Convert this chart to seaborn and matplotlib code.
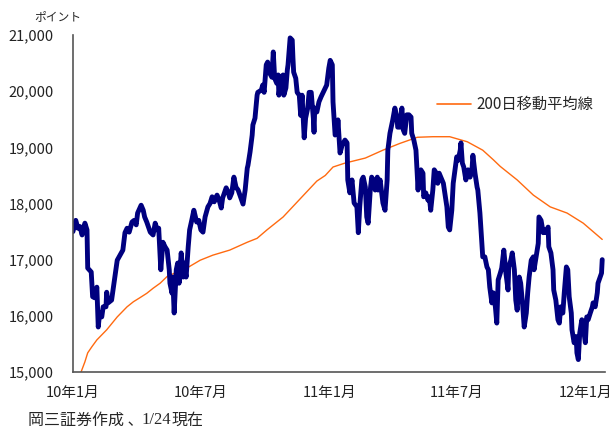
import pandas as pd
import matplotlib
matplotlib.use("Agg")
import matplotlib.pyplot as plt
from matplotlib.lines import Line2D
import seaborn as sns

# 指数の終値（2010/1/1 からの経過日数, ポイント） - 図から読み取った概算値
index_days = [
    0, 4, 7, 10, 13, 17, 20, 21, 26, 28, 31, 34, 36, 38, 41, 43, 47, 48, 50, 55,
    60, 63, 67, 71, 74, 77, 80, 84, 87, 90, 92, 97, 100, 102, 105, 110, 114, 117, 120,
    122, 125, 128, 131, 134, 137, 138, 141, 142, 144, 147, 149, 151, 154, 157, 158, 161,
    164, 166, 169, 172, 176, 179, 182, 185, 188, 192, 195, 198, 201, 205, 208, 211, 213,
    218, 221, 223, 226, 229, 232, 235, 239, 242, 245, 248,
    249, 252, 255, 256, 259, 262, 263, 268, 270, 272, 275, 277, 280, 283, 285, 287, 290,
    292, 293, 296, 299, 300, 303, 305, 306, 309, 312, 313, 314, 317, 319, 322, 324, 326,
    329, 331, 334, 336, 339, 342, 343, 344, 347, 350, 353, 356, 359, 361, 364, 366, 369,
    370, 373,
    376, 377, 380, 383, 387, 390, 391, 394, 397, 400, 404, 406, 408, 411, 413, 416, 418,
    420, 423, 425, 427, 430, 433, 434, 437, 440, 441, 444, 447, 448, 451, 454, 455, 458,
    461, 462, 465, 468, 470, 472, 475, 478, 481, 482, 485, 488, 490, 491, 492,
    495, 498, 499, 502, 505, 507, 509, 512, 514, 517, 519, 521, 525, 527, 529, 532, 534,
    536, 539, 541, 544, 546, 548, 551, 552, 554, 556, 559, 562, 565, 568, 569, 572, 575,
    576, 579, 582, 583, 586, 589, 591, 593, 596, 598, 601, 603, 605, 608, 610, 613,
    616, 619, 620, 623, 625, 628, 630, 632, 635, 637, 640, 642, 645, 647, 649, 652, 655,
    656, 659, 662, 663, 666, 669, 670, 673, 676, 677, 680, 683, 684, 687, 690, 692, 694,
    697, 699, 702, 704, 706, 709, 710, 713, 716, 717, 719, 721, 724, 726, 729, 731, 733,
    736, 739, 740, 743, 746, 747, 750, 752, 753,
]
index_close = [
    17500, 17700, 17560, 17590, 17440, 17650, 17530, 16850, 16780, 16340, 16320, 16510,
    15800, 16050, 15980, 16160, 16160, 16420, 16230, 16280,
    16730, 16990, 17080, 17170, 17480, 17560, 17490, 17670, 17700, 17620, 17830, 17970,
    17880, 17760, 17670, 17490, 17440, 17650, 17530,
    17560, 16820, 17310, 17230, 17170, 16820, 16580, 16400, 16690, 16050, 16820, 16940,
    16580, 17120, 16690, 16940, 16690, 17230, 17530, 17700, 17880, 17670, 17700, 17530,
    17490, 17760, 17940, 18000, 18120, 18030, 18150, 18060, 17920, 18100,
    18280, 18200, 18100, 18190, 18470, 18290, 18240, 18100, 17990, 18240, 18630,
    18680, 18920, 19220, 19400, 19520, 19930, 19980, 20020, 20110, 19980, 20470, 20520,
    20320, 20250, 20700, 20230, 20140, 20290, 19930, 20250, 20290, 19930, 20060, 20380,
    20470, 20950, 20910, 20590, 20340, 20230, 19980, 19930, 19570, 19930, 19170, 19520,
    19700, 19980, 19980, 19520, 19270, 19700, 19630, 19810, 19900, 19980, 20060, 20110,
    20410, 20550, 20470, 19810, 19220,
    19250, 19490, 18900, 19040, 19130, 19080, 18420, 18190, 18420, 18010, 17940, 17480,
    17940, 18420, 18470, 18290, 17760, 17650, 18240, 18470, 18420, 18240, 18470, 18240,
    18420, 18120, 18010, 17880, 18420, 18950, 19250, 19430, 19490, 19700, 19540, 19360,
    19360, 19700, 19310, 19250, 19580, 19580, 19540, 19250, 19130, 18950, 18470, 18240,
    18500,
    18600, 18540, 18120, 18190, 18060, 18120, 17880, 18240, 18600, 18540, 18360, 18540,
    18420, 18360, 18190, 17940, 17580, 17530, 17880, 18360, 18650, 18830, 18770, 18950,
    19080, 18720, 18650, 18420, 18600, 18470, 18650, 18860, 18540, 18290, 18240, 17830,
    17230, 17050, 17050, 16870, 16820, 16510, 16230, 16410, 16160, 15870, 16640, 16760,
    16850, 17170,
    16760, 16460, 16870, 16990, 17120, 16820, 16280, 16100, 16690, 16580, 16160, 15800,
    16050, 16410, 16690, 16990, 17050, 16820, 17050, 17290, 17760, 17700, 17480, 17530,
    17480, 17580, 17230, 17120, 16820, 16460, 16280, 15930, 15870, 16160, 16050, 16410,
    16870, 16820, 16340, 16050, 15750, 15520, 15630, 15340, 15220, 15690, 15930, 15800,
    15520, 15980, 15930, 16050, 16160, 16230, 16160, 16410, 16580, 16690, 16760, 17000,
]

# 200日移動平均線
ma_days = [
    11, 17, 21, 27, 34, 41, 48, 63, 77, 86, 95, 105, 114, 124, 134, 148, 162, 181, 199,
    223, 248, 262, 276, 299, 323, 347, 359, 370, 387, 416, 441, 465, 490, 512, 536,
    561, 583, 598, 608, 615, 632, 655, 679, 703, 726, 753,
]
ma_values = [
    14980, 15180, 15340, 15450, 15570, 15660, 15750, 15980, 16160, 16250, 16320, 16400,
    16490, 16580, 16700, 16780, 16850, 16990, 17080, 17170, 17310, 17380, 17530, 17760,
    18080, 18400, 18500, 18650, 18720, 18810, 18950, 19070, 19180, 19190, 19190, 19100,
    18950, 18780, 18660, 18590, 18420, 18150, 17940, 17830, 17650, 17360,
]

tick_dates = ["2010-01-01", "2010-07-01", "2011-01-01", "2011-07-01", "2012-01-01"]
tick_labels = ["10年1月", "10年7月", "11年1月", "11年7月", "12年1月"]
y_ticks = [15000, 16000, 17000, 18000, 19000, 20000, 21000]

base = pd.Timestamp("2010-01-01")
df_index = pd.DataFrame({"date": base + pd.to_timedelta(index_days, unit="D"),
                         "value": index_close})
df_ma = pd.DataFrame({"date": base + pd.to_timedelta(ma_days, unit="D"),
                      "value": ma_values})

sns.set_style("white")
plt.rcParams["font.family"] = ["Noto Sans CJK JP", "DejaVu Sans"]

fig = plt.figure(figsize=(6.13, 4.28), dpi=100)
ax = fig.add_axes([0.119, 0.131, 0.868, 0.787])

navy = "#00007f"
orange = "#ff6a10"
sns.lineplot(data=df_ma, x="date", y="value", ax=ax, color=orange, linewidth=1.0)
sns.lineplot(data=df_index, x="date", y="value", ax=ax, color=navy, linewidth=3.5)

ax.set_ylim(15000, 21000)
ax.set_xlim(base, base + pd.Timedelta(days=757))
ax.set_yticks(y_ticks)
ax.set_yticklabels([f"{v:,}" for v in y_ticks], fontsize=10.5, color="#222222")
ax.set_xticks(pd.to_datetime(tick_dates))
ax.set_xticklabels(tick_labels, fontsize=10.5, color="#222222")
ax.set_xlabel("")
ax.set_ylabel("")

for side in ["top", "right"]:
    ax.spines[side].set_visible(False)
for side in ["left", "bottom"]:
    ax.spines[side].set_color("#555555")
    ax.spines[side].set_linewidth(1.2)
ax.tick_params(axis="y", direction="in", length=4, width=1, color="#555555", pad=14)
ax.tick_params(axis="x", direction="in", length=4, width=1, color="#555555", pad=10)

legend_handle = [Line2D([0], [0], color=orange, linewidth=1.2)]
ax.legend(legend_handle, ["200日移動平均線"], loc="upper left",
          bbox_to_anchor=(0.659, 0.86), frameon=False, fontsize=11,
          handlelength=2.2, handletextpad=0.35)

fig.text(58 / 613, 1 - 17 / 428, "ポイント", fontsize=8.5, ha="center", va="center")
fig.text(28 / 613, 1 - 420 / 428, "岡三証券作成 、", fontsize=11.5, ha="left", va="center")
fig.text(141 / 613, 1 - 420 / 428, "1/24", fontsize=12, ha="left", va="center",
         family="Liberation Serif")
fig.text(172 / 613, 1 - 420 / 428, "現在", fontsize=11.5, ha="left", va="center")

fig.savefig("out.png", dpi=100)
